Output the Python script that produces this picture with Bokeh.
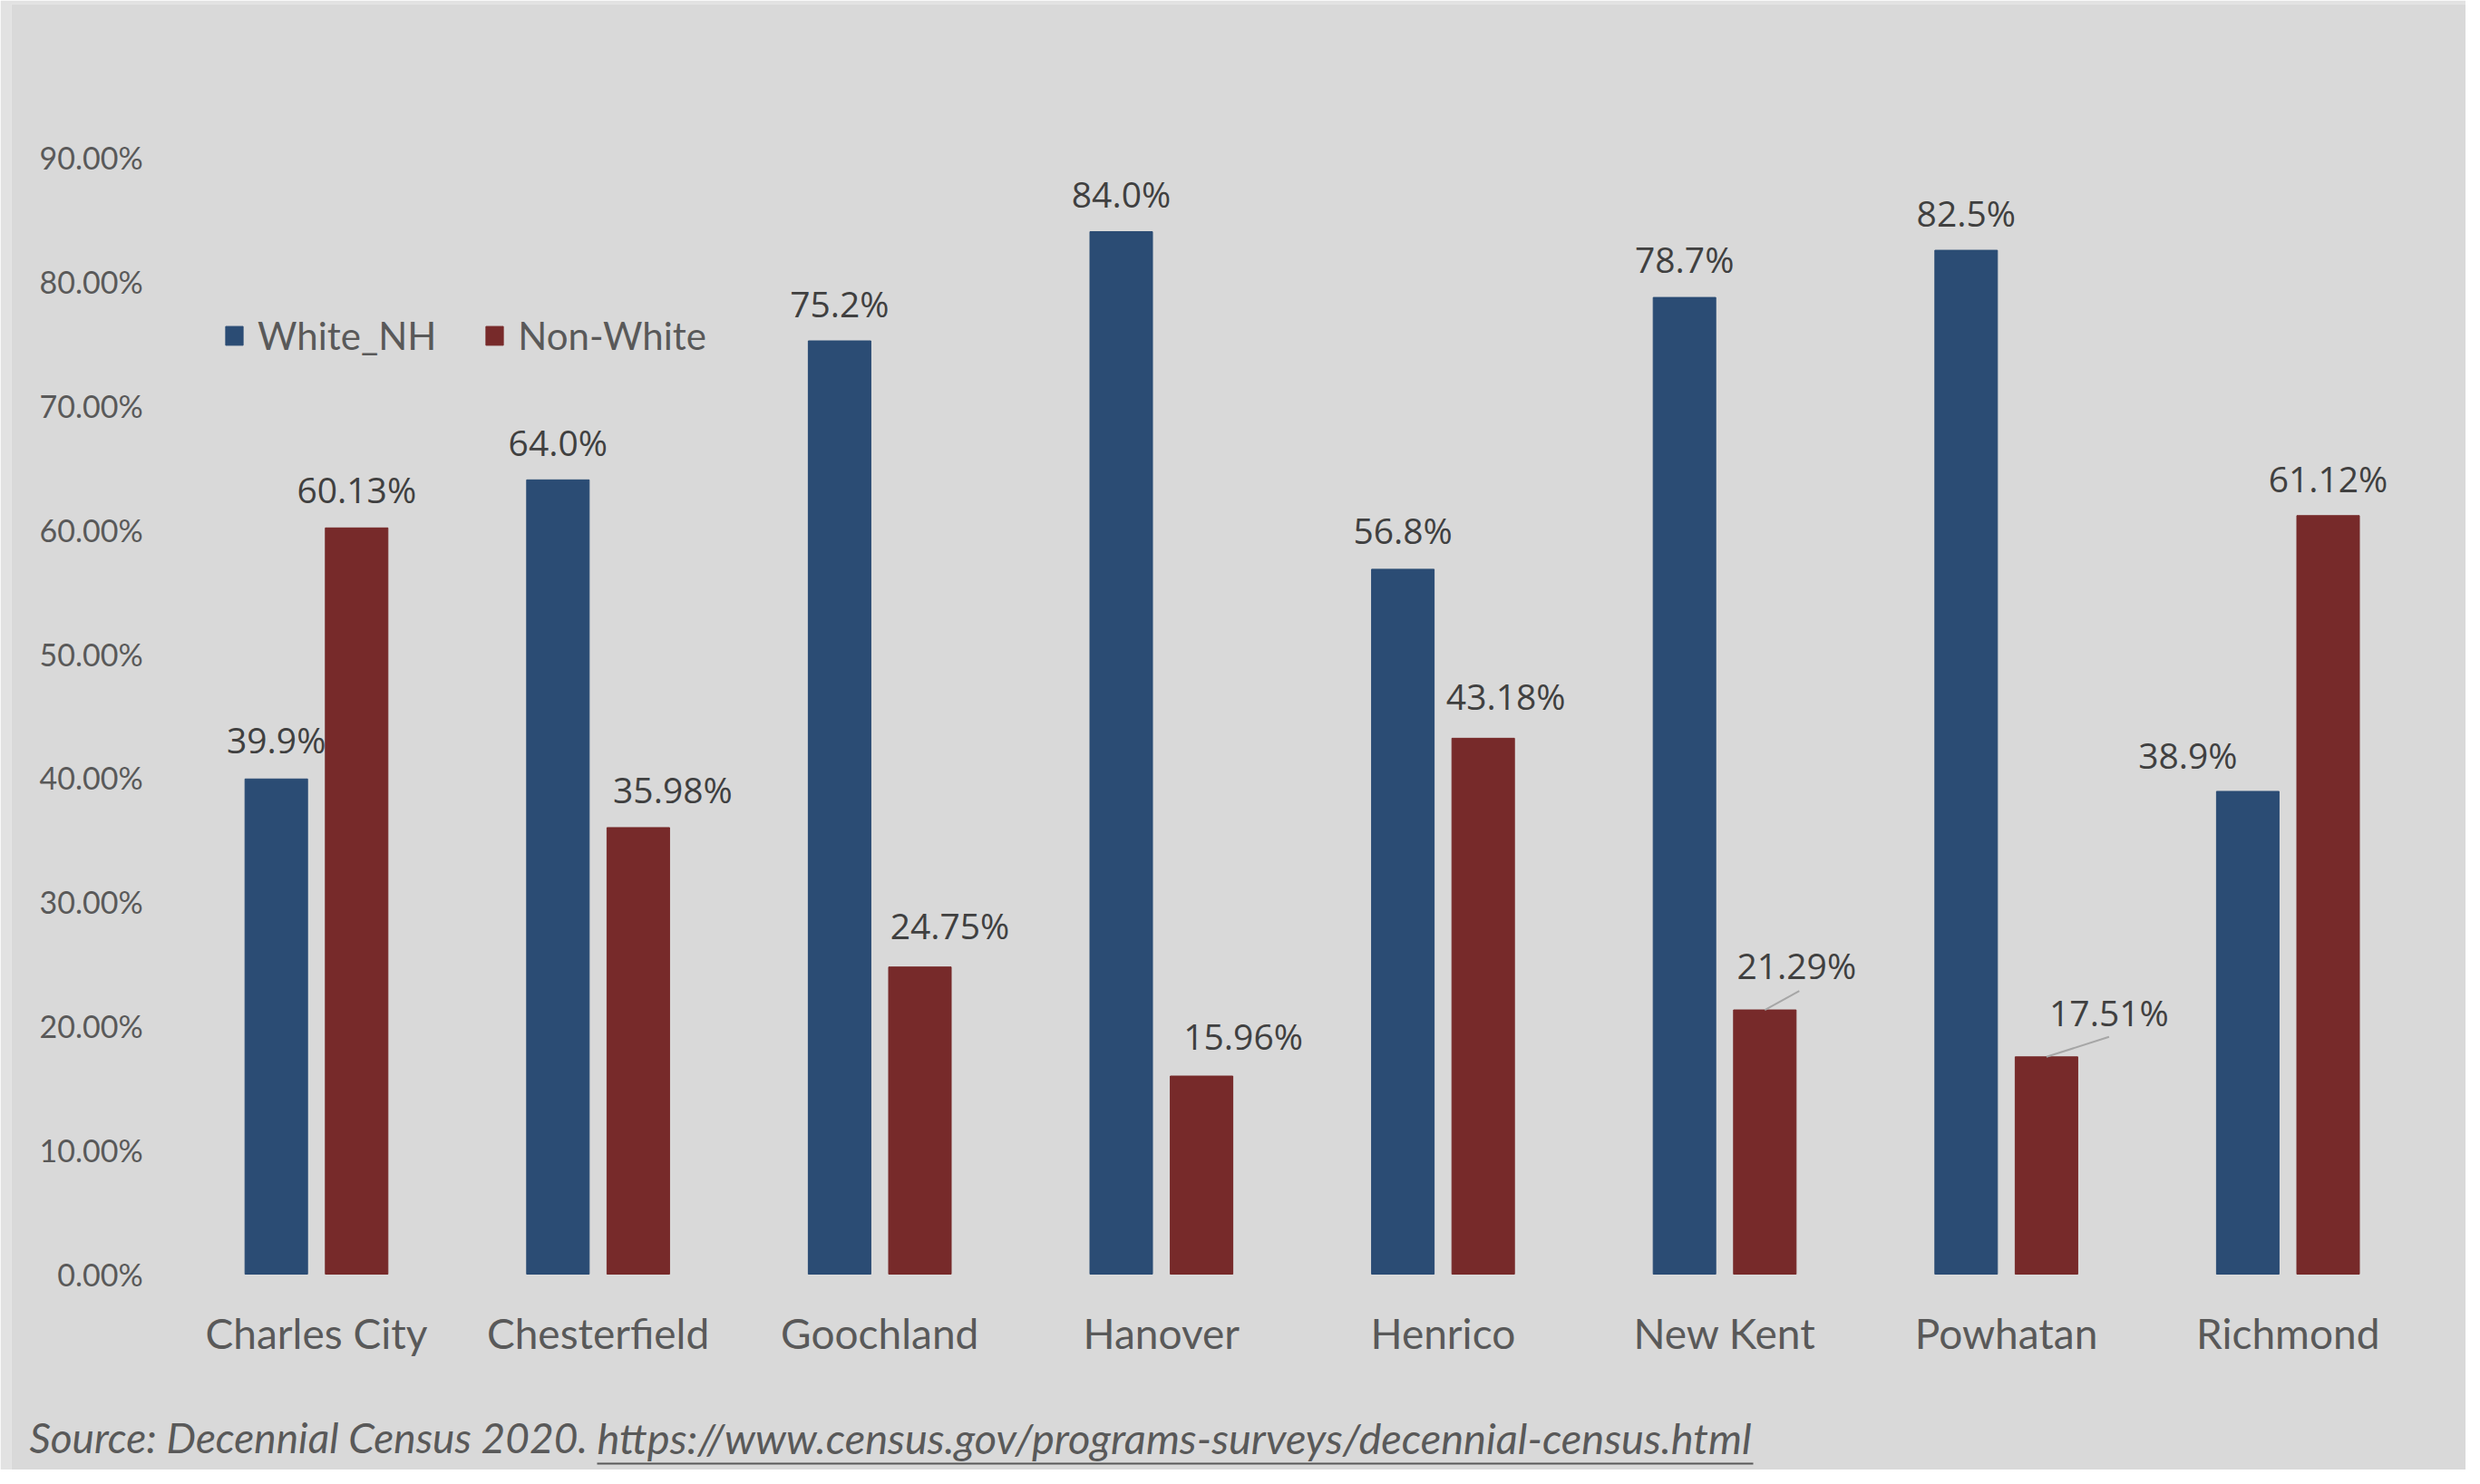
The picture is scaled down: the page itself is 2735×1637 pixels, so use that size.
from bokeh.plotting import figure
from bokeh.models import (ColumnDataSource, Range1d, FixedTicker, LinearAxis,
                          NumeralTickFormatter, Legend, LegendItem, Label, Arrow)
from bokeh.transform import dodge
from bokeh.core.properties import value
from bokeh.embed import file_html
from bokeh.resources import INLINE

# ---------------- data ----------------
counties = ["Charles City", "Chesterfield", "Goochland", "Hanover",
            "Henrico", "New Kent", "Powhatan", "Richmond"]
white_nh = [0.399, 0.640, 0.752, 0.840, 0.568, 0.787, 0.825, 0.389]
non_white = [0.6013, 0.3598, 0.2475, 0.1596, 0.4318, 0.2129, 0.1751, 0.6112]
y_ticks = [0.0, 0.1, 0.2, 0.3, 0.4, 0.5, 0.6, 0.7, 0.8, 0.9]
series_names = ["White_NH", "Non-White"]
source_text = "Source: Decennial Census 2020. "
source_url = "https://www.census.gov/programs-surveys/decennial-census.html"

# ---------------- layout / style ----------------
W, H = 2719, 1621
PAD_L, PAD_T = 12, 4            # light outer strip of the original screenshot
AX_X = 193.2                    # pixel position of the value axis
ZERO_Y = 1405                   # pixel position of 0 %
CAT_PX = 310.6                  # pixels per category
UNIT_PX = 1369                  # pixels per 100 %

X0 = (PAD_L - AX_X) / CAT_PX
X1 = (W - AX_X) / CAT_PX
Y1 = (ZERO_Y - PAD_T) / UNIT_PX
Y0 = -(H - ZERO_Y) / UNIT_PX

OFF = 44.3 / CAT_PX
BAR_W = 69 / CAT_PX

BLUE = "#2b4c74"
RED = "#772a2a"
BG = "#d9d9d9"
OUTER = "#e2e2e2"
AXIS_TXT = "#595959"
LBL_TXT = "#404040"

# label offsets in pixels (manual placement like the original)
white_dx = [0, 0, 0, 0, 0, 0, 0, -66]
white_dy = [44, 42, 42, 42, 43, 43, 42, 40]
red_dx = [0, 38, 33, 46, 25, 35, 69, 0]
red_dy = [43, 42, 46, 45, 47, 50, 49, 41]
leader_idx = [5, 6]
leader_px = [(38, 21), (69, 22)]

pos = [i + 0.5 for i in range(len(counties))]
src = ColumnDataSource(dict(
    pos=pos,
    cat=counties,
    white=white_nh,
    red=non_white,
    white_lbl=[f"{v*100:.1f}%" for v in white_nh],
    red_lbl=[f"{v*100:.2f}%" for v in non_white],
    wdx=white_dx, wdy=[-d for d in white_dy],
    rdx=red_dx, rdy=[-d for d in red_dy],
))

p = figure(width=W, height=H, x_range=Range1d(X0, X1), y_range=Range1d(Y0, Y1),
           output_backend="svg", toolbar_location=None,
           x_axis_location=None, y_axis_location=None,
           min_border_left=PAD_L, min_border_top=PAD_T,
           min_border_right=0, min_border_bottom=0)
p.background_fill_color = BG
p.border_fill_color = OUTER
p.outline_line_color = None
p.grid.visible = False

r_w = p.vbar(x=dodge("pos", -OFF), top="white", width=BAR_W,
             source=src, fill_color=BLUE, line_color=BLUE)
r_r = p.vbar(x=dodge("pos", OFF), top="red", width=BAR_W,
             source=src, fill_color=RED, line_color=RED)

# leader lines
lx0, ly0, lx1, ly1 = [], [], [], []
for i, (dx, dy) in zip(leader_idx, leader_px):
    xc = pos[i] + OFF
    lx0.append(xc)
    ly0.append(non_white[i])
    lx1.append(xc + dx / CAT_PX)
    ly1.append(non_white[i] + dy / UNIT_PX)
p.segment(x0=lx0, y0=ly0, x1=lx1, y1=ly1, line_color="#a6a6a6", line_width=2)

txt_kw = dict(text_font=value("Open Sans"), text_font_size="39px",
              text_color=LBL_TXT, text_align="center", text_baseline="middle")
p.text(x=dodge("pos", -OFF), y="white", text="white_lbl",
       x_offset="wdx", y_offset="wdy", source=src, **txt_kw)
p.text(x=dodge("pos", OFF), y="red", text="red_lbl",
       x_offset="rdx", y_offset="rdy", source=src, **txt_kw)

# axes (drawn inside the frame at fixed positions)
xaxis = LinearAxis(fixed_location=0, ticker=FixedTicker(ticks=pos),
                   major_label_overrides={x: c for x, c in zip(pos, counties)})
yaxis = LinearAxis(fixed_location=0, ticker=FixedTicker(ticks=y_ticks),
                   formatter=NumeralTickFormatter(format="0.00%"))
for ax in (xaxis, yaxis):
    ax.axis_line_color = None
    ax.major_tick_line_color = None
    ax.minor_tick_line_color = None
    ax.major_tick_out = 0
    ax.major_tick_in = 0
    ax.major_label_text_color = AXIS_TXT
    ax.major_label_text_font = "Lato"
yaxis.major_label_text_font_size = "34px"
yaxis.major_label_standoff = 36
xaxis.major_label_text_font_size = "46px"
xaxis.major_label_standoff = 37
p.add_layout(xaxis, "below")
p.add_layout(yaxis, "left")

# legend
legend = Legend(items=[LegendItem(label=series_names[0], renderers=[r_w]),
                       LegendItem(label=series_names[1], renderers=[r_r])],
                orientation="horizontal", location=(234, 1226),
                background_fill_alpha=0, border_line_color=None,
                padding=0, margin=0, spacing=52, label_standoff=14,
                glyph_width=24, glyph_height=26,
                label_text_font="Lato", label_text_font_size="42px",
                label_text_color=AXIS_TXT)
p.add_layout(legend)

# source note
base_y = -(1585 - ZERO_Y) / UNIT_PX
ul_y = -(1614 - ZERO_Y) / UNIT_PX
src_x = (32 - AX_X) / CAT_PX
url_x0 = (658 - AX_X) / CAT_PX
url_x1 = (1933 - AX_X) / CAT_PX
p.add_layout(Label(x=src_x, y=base_y, text=source_text,
                   text_font="Lato", text_font_style="italic",
                   text_font_size="46px", text_color=AXIS_TXT,
                   text_baseline="alphabetic"))
p.add_layout(Label(x=url_x0, y=base_y, text=source_url,
                   text_font="Lato", text_font_style="italic",
                   text_font_size="47px", text_color=AXIS_TXT,
                   text_baseline="alphabetic"))
p.add_layout(Arrow(start=None, end=None, x_start=url_x0, y_start=ul_y,
                   x_end=url_x1, y_end=ul_y, line_color=AXIS_TXT,
                   line_width=2))

open("out.html", "w").write(file_html(p, INLINE))
